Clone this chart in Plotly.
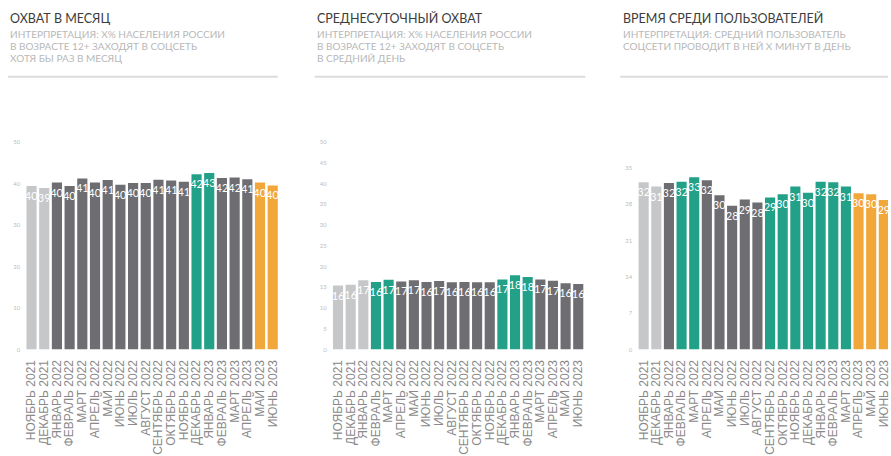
import plotly.graph_objects as go

categories = ["НОЯБРЬ 2021", "ДЕКАБРЬ 2021", "ЯНВАРЬ 2022", "ФЕВРАЛЬ 2022", "МАРТ 2022",
              "АПРЕЛЬ 2022", "МАЙ 2022", "ИЮНЬ 2022", "ИЮЛЬ 2022", "АВГУСТ 2022",
              "СЕНТЯБРЬ 2022", "ОКТЯБРЬ 2022", "НОЯБРЬ 2022", "ДЕКАБРЬ 2022", "ЯНВАРЬ 2023",
              "ФЕВРАЛЬ 2023", "МАРТ 2023", "АПРЕЛЬ 2023", "МАЙ 2023", "ИЮНЬ 2023"]

monthly_reach = [39.4, 38.9, 40.2, 39.4, 41.2, 40.2, 40.8, 39.7, 40.1, 40.1,
                 40.9, 40.7, 40.4, 42.2, 42.5, 41.3, 41.4, 41.0, 40.2, 39.5]
monthly_labels = [40, 39, 40, 40, 41, 40, 41, 40, 40, 40, 41, 41, 41, 42, 43, 42, 42, 41, 40, 40]
monthly_groups = ["l", "l", "d", "d", "d", "d", "d", "d", "d", "d",
                  "d", "d", "d", "t", "t", "d", "d", "d", "o", "o"]

daily_reach = [15.4, 15.6, 16.7, 16.3, 16.8, 16.4, 16.7, 16.3, 16.5, 16.2,
               16.3, 16.2, 16.2, 16.9, 17.9, 17.5, 16.9, 16.6, 16.0, 15.8]
daily_labels = [16, 16, 17, 16, 17, 17, 17, 16, 17, 16, 16, 16, 16, 17, 18, 18, 17, 17, 16, 16]
daily_groups = ["l", "l", "l", "t", "t", "d", "d", "d", "d", "d",
                "d", "d", "d", "t", "t", "t", "d", "d", "d", "d"]

time_spent = [32.2, 31.4, 32.1, 32.3, 33.2, 32.6, 29.7, 27.7, 28.9, 28.3,
              29.3, 29.9, 31.4, 30.2, 32.3, 32.2, 31.4, 30.1, 29.9, 28.8]
time_labels = [32, 31, 32, 32, 33, 32, 30, 28, 29, 28, 29, 30, 31, 30, 32, 32, 31, 30, 30, 29]
time_groups = ["l", "l", "d", "t", "t", "d", "d", "d", "d", "d",
               "t", "t", "t", "t", "t", "t", "t", "o", "o", "o"]

titles = ["ОХВАТ В МЕСЯЦ", "СРЕДНЕСУТОЧНЫЙ ОХВАТ", "ВРЕМЯ СРЕДИ ПОЛЬЗОВАТЕЛЕЙ"]
subtitles = [
    ["ИНТЕРПРЕТАЦИЯ: Х% НАСЕЛЕНИЯ РОССИИ", "В ВОЗРАСТЕ 12+ ЗАХОДЯТ В СОЦСЕТЬ", "ХОТЯ БЫ РАЗ В МЕСЯЦ"],
    ["ИНТЕРПРЕТАЦИЯ: Х% НАСЕЛЕНИЯ РОССИИ", "В ВОЗРАСТЕ 12+ ЗАХОДЯТ В СОЦСЕТЬ", "В СРЕДНИЙ ДЕНЬ"],
    ["ИНТЕРПРЕТАЦИЯ: СРЕДНИЙ ПОЛЬЗОВАТЕЛЬ", "СОЦСЕТИ ПРОВОДИТ В НЕЙ Х МИНУТ В ДЕНЬ"],
]

palette = {"l": "#c6c7c9", "d": "#6e6e72", "t": "#22a088", "o": "#f2a73b"}

W, H = 891, 456
fig = go.Figure()

panels = [
    (monthly_reach, monthly_labels, monthly_groups, [0, 50], 10, (24.3, 279.3), [-0.5, 19.5]),
    (daily_reach, daily_labels, daily_groups, [0, 50], 5, (332.2, 586.2), [-0.5, 19.5]),
    (time_spent, time_labels, time_groups, [0, 40], 7, (639.2, 891), [-0.5, 19.33]),
]

ydom = [(H - 351) / H, (H - 140) / H]
for i, (vals, labs, groups, yr, dt, (x0, x1), xr) in enumerate(panels):
    n = "" if i == 0 else str(i + 1)
    fig.add_trace(go.Bar(
        x=categories, y=vals, text=[str(v) for v in labs],
        marker=dict(color=[palette[g] for g in groups], line=dict(width=0)),
        textposition="inside", insidetextanchor="end", constraintext="none", textangle=0,
        textfont=dict(color="white", size=11, family="Lato"),
        xaxis="x" + n, yaxis="y" + n, showlegend=False, hoverinfo="x+y",
    ))
    fig.layout["xaxis" + n] = dict(
        domain=[x0 / W, x1 / W], range=xr, anchor="y" + n, tickangle=-90,
        tickmode="array", tickvals=categories, ticktext=categories,
        tickfont=dict(size=12, color="#8a8a8a", family="Liberation Sans"),
        ticklabelstandoff=7,
        showline=False, ticks="", showgrid=False, zeroline=False, fixedrange=True,
    )
    fig.layout["yaxis" + n] = dict(
        domain=ydom, range=yr, dtick=dt, anchor="x" + n, showgrid=False, zeroline=False,
        showline=False, ticks="", tickfont=dict(size=6, color="#bdbdbd", family="Lato"),
        ticklabelstandoff=4, fixedrange=True,
    )

title_x = [7, 315, 623]
line_ends = [(7, 278), (315, 587), (622, 891)]
annotations = []
shapes = []
for i in range(3):
    annotations.append(dict(
        x=title_x[i] / W, y=1 - 15 / H, xref="paper", yref="paper", xanchor="left",
        yanchor="middle", text=titles[i], showarrow=False,
        font=dict(size=12.5, color="#3c3c3c", family="Lato"),
    ))
    for j, line in enumerate(subtitles[i]):
        annotations.append(dict(
            x=title_x[i] / W, y=1 - (30 + 12.3 * j) / H, xref="paper", yref="paper",
            xanchor="left", yanchor="middle", text=line, showarrow=False,
            font=dict(size=10, color="#b8b8b8", family="Lato"),
        ))
    shapes.append(dict(
        type="line", xref="paper", yref="paper", x0=line_ends[i][0] / W, x1=line_ends[i][1] / W,
        y0=1 - 74 / H, y1=1 - 74 / H, line=dict(color="#dcdcdc", width=2),
    ))

fig.update_layout(
    width=W, height=H, margin=dict(l=0, r=0, t=0, b=0),
    paper_bgcolor="white", plot_bgcolor="white", bargap=0.2,
    annotations=annotations, shapes=shapes,
)

fig.write_html("out.html", config={"displayModeBar": False},
               post_script="document.body.style.margin='0';")
